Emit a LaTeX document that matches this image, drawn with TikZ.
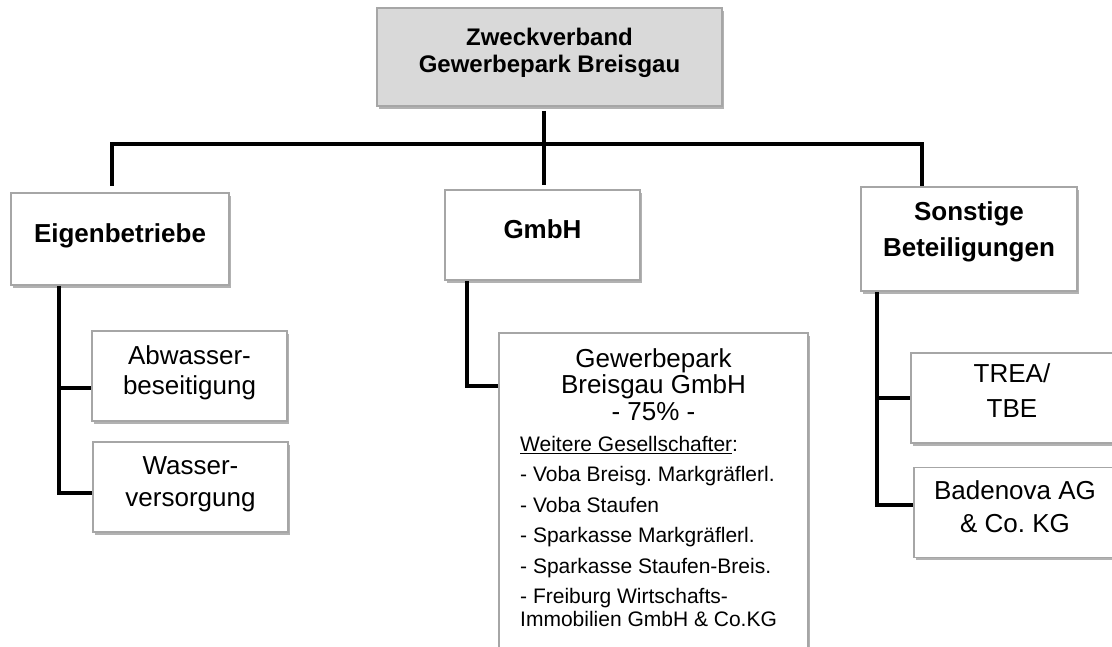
\documentclass[tikz,border=0pt]{standalone}
\usepackage{fontspec}
\setmainfont{Liberation Sans}
\usepackage[HTML]{xcolor}
\usetikzlibrary{positioning, shadows}
\frenchspacing

\definecolor{boxgray}{HTML}{A6A6A6}
\definecolor{headfill}{HTML}{D9D9D9}

\tikzset{
  box/.style={draw=boxgray, line width=1.5pt, fill=white, inner sep=0pt, align=center,
    drop shadow={shadow xshift=1.5pt, shadow yshift=-2.5pt, fill=black, opacity=.3}},
  headbox/.style={box, fill=headfill, font=\fontsize{24}{27}\selectfont\bfseries},
  groupbox/.style={box, font=\fontsize{26}{36}\selectfont\bfseries},
  unitbox/.style={box, font=\fontsize{26}{30}\selectfont},
  link/.style={line width=4pt, black},
}

\begin{document}
\begin{tikzpicture}[x=1pt, y=-1pt]
\path[use as bounding box, clip] (0,0) rectangle (1112,646);

% top level
\node[headbox, minimum width=345pt, minimum height=98pt, text depth=14pt] (zv) at (549.5,57)
  {Zweckverband\\Gewerbepark Breisgau};

% second level
\node[groupbox, minimum width=218pt, minimum height=92pt, text depth=12pt] (eigen) at (120,239) {Eigenbetriebe};
\node[groupbox, minimum width=195pt, minimum height=90pt, text depth=12pt] (gmbh) at (542.5,235) {GmbH};
\node[groupbox, minimum width=216pt, minimum height=104pt, text depth=19pt] (sonst) at (969,239)
  {Sonstige\\Beteiligungen};

% Eigenbetriebe
\node[unitbox, minimum width=195pt, minimum height=90pt, text depth=11pt] (abw) at (189.5,376)
  {Abwasser-\\beseitigung};
\node[unitbox, font=\fontsize{26}{32}\selectfont, minimum width=195pt, minimum height=90pt, text depth=11pt] (wass) at (190.5,487)
  {Wasser-\\versorgung};

% GmbH
\node[box, minimum width=309pt, minimum height=340pt] (gbg) at (653.5,503) {};
\node[anchor=north, inner sep=0pt, align=center, font=\fontsize{26}{26.5}\selectfont] (gbgtitle) at (653.5,348)
  {Gewerbepark\\Breisgau GmbH\\- 75\% -};
\node[anchor=north west, inner sep=0pt, align=left, font=\fontsize{21}{30.5}\selectfont] (gbglist) at (520,436)
  {\underline{Weitere Gesellschafter}:\\
   - Voba Breisg. Markgräflerl.\\
   - Voba Staufen\\
   - Sparkasse Markgräflerl.\\
   - Sparkasse Staufen-Breis.\\
   - Freiburg Wirtschafts-\\[-7.5pt]
   Immobilien GmbH \& Co.KG};

% Sonstige
\node[unitbox, font=\fontsize{26}{35}\selectfont, minimum width=202pt, minimum height=90pt, text depth=14pt] (trea) at (1012,398)
  {TREA/\\TBE};
\node[unitbox, font=\fontsize{26}{33}\selectfont, minimum width=202pt, minimum height=90pt, text depth=11pt] (bade) at (1015,512.5)
  {Badenova AG\\\& Co. KG};

% connectors
\coordinate (hub) at (544,144);
\draw[link, shorten <=4pt] (zv.south -| hub) -- (hub);
\draw[link, shorten >=6pt] (hub) -| ([xshift=-8pt]eigen.north);
\draw[link, shorten >=4pt] (hub) -- (hub |- gmbh.north);
\draw[link] (hub) -| ([xshift=-47pt]sonst.north);

\draw[link] ([xshift=49pt]eigen.south west) |- ([yshift=-12pt]abw.west);
\draw[link] ([xshift=49pt]eigen.south west) |- ([yshift=-6pt]wass.west);

\draw[link] ([xshift=23pt]gmbh.south west) |- ([yshift=-54pt]gbg.north west);

\draw[link] ([xshift=17pt]sonst.south west) |- (trea.west);
\draw[link] ([xshift=17pt]sonst.south west) |- ([yshift=8pt]bade.west);
\end{tikzpicture}
\end{document}
